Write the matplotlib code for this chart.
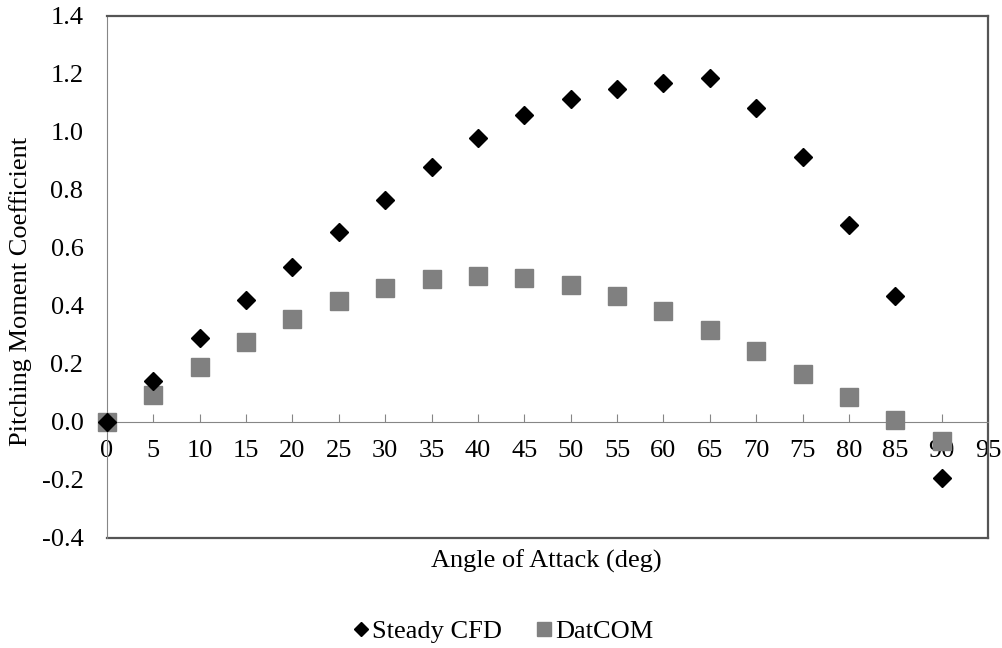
import matplotlib
matplotlib.use("Agg")
import matplotlib.pyplot as plt
from matplotlib.ticker import MultipleLocator, StrMethodFormatter

# angle of attack (deg) and pitching moment coefficients
alpha = [0, 5, 10, 15, 20, 25, 30, 35, 40, 45, 50, 55, 60, 65, 70, 75, 80, 85, 90]
cm_cfd = [0.0, 0.14, 0.29, 0.42, 0.535, 0.655, 0.765, 0.88, 0.98, 1.06, 1.115,
          1.15, 1.17, 1.185, 1.083, 0.914, 0.68, 0.434, -0.193]
cm_datcom = [0.0, 0.093, 0.19, 0.276, 0.355, 0.417, 0.462, 0.493, 0.503, 0.497,
             0.472, 0.434, 0.383, 0.317, 0.245, 0.166, 0.086, 0.007, -0.066]

plt.rcParams['font.family'] = ['Liberation Serif', 'DejaVu Serif']
plt.rcParams['axes.unicode_minus'] = False
fs = 19
light = '#868686'
dark = '#555555'

fig = plt.figure(figsize=(10.03, 6.48), dpi=100)
ax = fig.add_axes([107 / 1003, 1 - 538 / 648, (988 - 107) / 1003, (538 - 16) / 648])

ax.plot(alpha, cm_cfd, linestyle='none', marker='D', markersize=8.7,
        color='black', label='Steady CFD', zorder=4, clip_on=False)
ax.plot(alpha, cm_datcom, linestyle='none', marker='s', markersize=12.5,
        color='#808080', label='DatCOM', zorder=3, clip_on=False)

ax.set_xlim(0, 95)
ax.set_ylim(-0.4, 1.4)
ax.xaxis.set_major_locator(MultipleLocator(5))
ax.yaxis.set_major_locator(MultipleLocator(0.2))
ax.yaxis.set_major_formatter(StrMethodFormatter('{x:.1f}'))

# x axis crosses at zero, frame drawn around plot area
ax.spines['bottom'].set_position(('data', 0))
ax.spines['bottom'].set_color(light)
ax.spines['left'].set_color(light)
for s in ['top', 'right']:
    ax.spines[s].set_color(dark)
    ax.spines[s].set_linewidth(1.6)
ax.plot([0, 1], [0, 0], transform=ax.transAxes, color=dark, lw=1.6, clip_on=False)

ax.tick_params(axis='x', direction='in', length=6, color=light, pad=13, labelsize=fs)
ax.tick_params(axis='y', length=0, pad=17, labelsize=fs)

ax.set_xlabel('Angle of Attack (deg)', fontsize=fs)
ax.xaxis.set_label_coords(0.499, -0.022)
ax.set_ylabel('Pitching Moment Coefficient', fontsize=fs)
ax.yaxis.set_label_coords(-0.085, 0.473)

fig.legend(loc='center', bbox_to_anchor=(0.5015, 1 - 631 / 648), ncol=2, frameon=False,
           fontsize=fs, markerscale=0.8, handlelength=0.6, handletextpad=0.12,
           columnspacing=1.3)

fig.savefig('out.png', dpi=100)
